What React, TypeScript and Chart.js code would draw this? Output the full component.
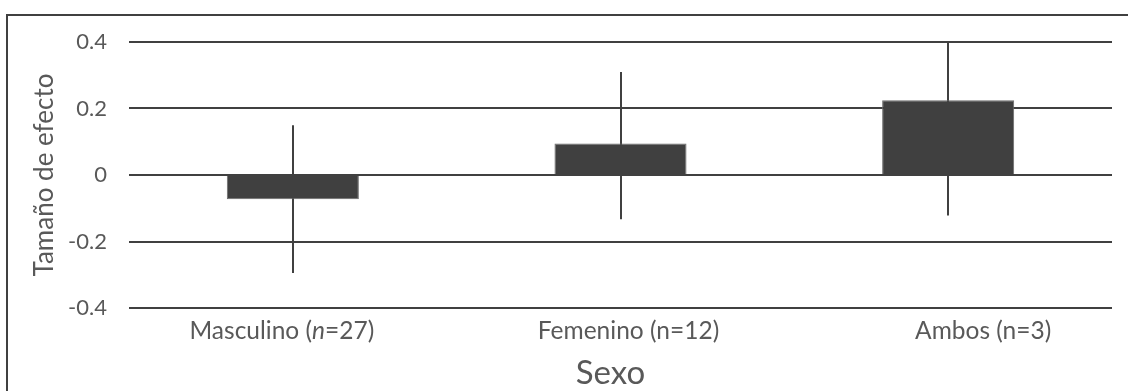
import React, { useEffect, useRef } from "react";
import { Chart, registerables } from "chart.js";

Chart.register(...registerables);

// Categories (grupos por sexo) and their label pieces; true marks an italic run
const categories = ["Masculino (n=27)", "Femenino (n=12)", "Ambos (n=3)"];
const categoryLabelRuns: [string, boolean][][] = [
  [["Masculino (", false], ["n", true], ["=27)", false]],
  [["Femenino (n=12)", false]],
  [["Ambos (n=3)", false]],
];

// Tamaño de efecto medio y límites del intervalo
const effectSizes = [-0.073, 0.095, 0.225];
const ciLower = [-0.295, -0.133, -0.122];
const ciUpper = [0.15, 0.31, 0.4];

const yTickLabels = ["-0.4", "-0.2", "0", "0.2", "0.4"];

const FONT = "Lato, 'Open Sans', sans-serif";
const TEXT = "#595959";
const DARK = "#404040";

// horizontal nudge of each category label relative to its bar (px)
const labelNudge = [-11, 8, 35];

const framePlugin = {
  id: "frame",
  beforeDraw(chart: any) {
    const ctx = chart.ctx;
    ctx.save();
    ctx.strokeStyle = DARK;
    ctx.lineWidth = 2;
    ctx.strokeRect(7, 15, 3000, 3000);
    ctx.restore();
  },
};

const errorBarPlugin = {
  id: "errorBars",
  beforeDatasetsDraw(chart: any) {
    const ctx = chart.ctx;
    const x = chart.scales.x;
    const y = chart.scales.y;
    ctx.save();
    ctx.strokeStyle = DARK;
    ctx.lineWidth = 2;
    categories.forEach((_, i) => {
      const px = Math.round(x.getPixelForValue(i));
      ctx.beginPath();
      ctx.moveTo(px, y.getPixelForValue(ciUpper[i]));
      ctx.lineTo(px, y.getPixelForValue(ciLower[i]));
      ctx.stroke();
    });
    ctx.restore();
  },
};

const labelPlugin = {
  id: "axisLabels",
  afterDraw(chart: any) {
    const ctx = chart.ctx;
    const x = chart.scales.x;
    const cy = x.top + 23;
    ctx.save();
    ctx.fillStyle = TEXT;
    ctx.textBaseline = "middle";
    ctx.textAlign = "left";
    categoryLabelRuns.forEach((runs, i) => {
      const fonts = runs.map(([, it]) => `${it ? "italic " : ""}24.5px ${FONT}`);
      let total = 0;
      const widths = runs.map(([t], k) => {
        ctx.font = fonts[k];
        const w = ctx.measureText(t).width;
        total += w;
        return w;
      });
      let cx = x.getPixelForValue(i) + labelNudge[i] - total / 2;
      runs.forEach(([t], k) => {
        ctx.font = fonts[k];
        ctx.fillText(t, cx, cy);
        cx += widths[k];
      });
    });
    // axis title
    ctx.font = `33px ${FONT}`;
    ctx.textAlign = "center";
    ctx.fillText("Sexo", (chart.chartArea.left + chart.chartArea.right) / 2 - 10, 373);
    ctx.restore();
  },
};

export default function App() {
  const ref = useRef<HTMLCanvasElement>(null);

  useEffect(() => {
    if (!ref.current) return;
    const chart = new Chart(ref.current, {
      type: "bar",
      data: {
        labels: categories,
        datasets: [
          {
            data: effectSizes,
            backgroundColor: DARK,
            borderColor: "#6a6a6a",
            borderWidth: 1,
            barPercentage: 0.403,
            categoryPercentage: 1,
          },
        ],
      },
      options: {
        responsive: false,
        animation: false,
        layout: { padding: { left: 0, right: 16, top: 42, bottom: 0 } },
        plugins: {
          legend: { display: false },
          tooltip: { enabled: false },
        },
        scales: {
          x: {
            grid: { display: false },
            border: { display: false },
            ticks: { display: false },
            afterFit(scale: any) {
              scale.height = 83;
            },
          },
          y: {
            min: -0.4,
            max: 0.4,
            border: { display: false },
            grid: { color: DARK, lineWidth: 2, drawTicks: false },
            ticks: {
              stepSize: 0.2,
              padding: 22,
              color: TEXT,
              font: { family: FONT, size: 22 },
              callback: (_v: any, i: number) => yTickLabels[i],
            },
            afterFit(scale: any) {
              scale.width = 129;
            },
            title: {
              display: true,
              text: "Tamaño de efecto",
              color: TEXT,
              font: { family: FONT, size: 26, lineHeight: 1.2 },
              padding: { top: 29, bottom: 0 },
            },
          },
        },
      },
      plugins: [framePlugin, errorBarPlugin, labelPlugin],
    });
    return () => chart.destroy();
  }, []);

  return (
    <div style={{ position: "absolute", left: 0, top: 0, width: 1128, height: 391, background: "#fff" }}>
      <canvas ref={ref} width={1128} height={391} style={{ display: "block" }} />
    </div>
  );
}
